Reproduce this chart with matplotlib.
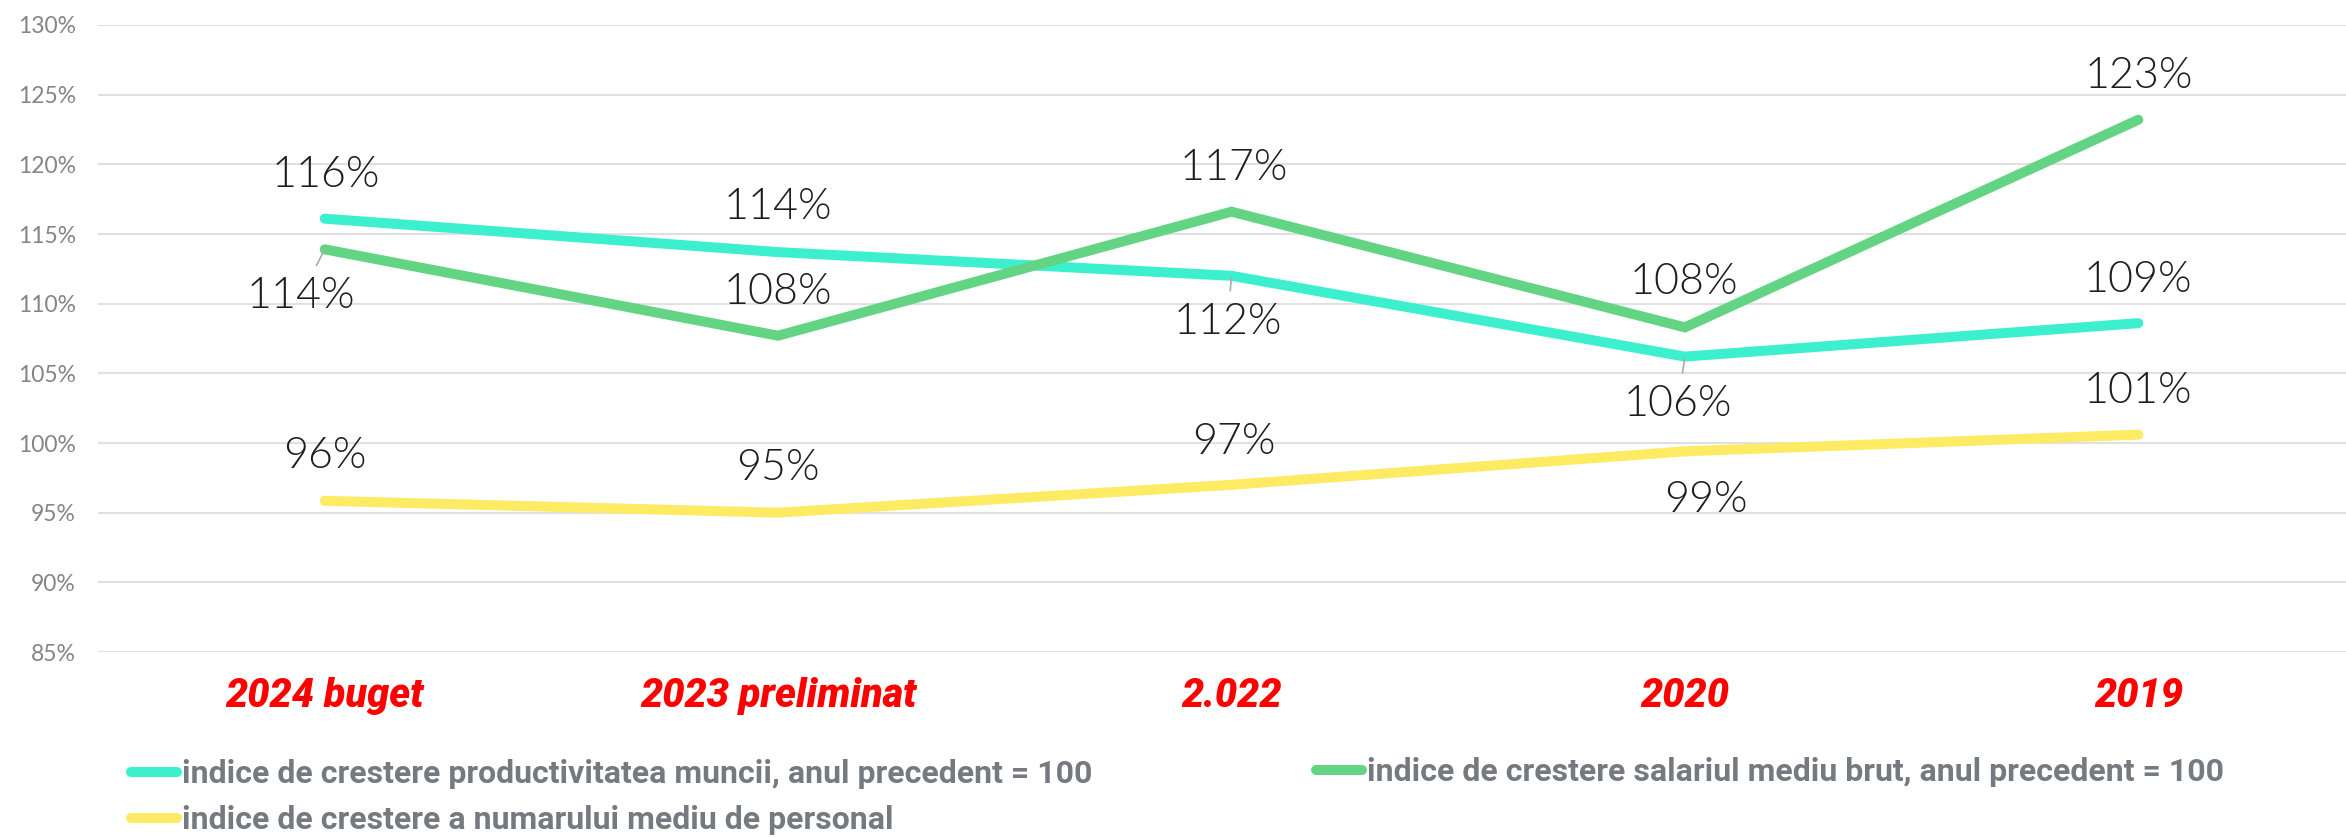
import matplotlib.pyplot as plt
from matplotlib.lines import Line2D

# values (percent, previous year = 100)
years = ['2024 buget', '2023 preliminat', '2.022', '2020', '2019']
productivitate = [116.1, 113.7, 112.0, 106.2, 108.6]
salariu = [113.9, 107.7, 116.6, 108.3, 123.2]
personal = [95.85, 95.0, 97.0, 99.4, 100.6]
yticks = [85, 90, 95, 100, 105, 110, 115, 120, 125, 130]

lbl_prod = 'indice de crestere productivitatea muncii, anul precedent = 100'
lbl_sal = 'indice de crestere salariul mediu brut, anul precedent = 100'
lbl_pers = 'indice de crestere a numarului mediu de personal'

c_prod = '#3cf0cf'
c_sal = '#63d384'
c_pers = '#fdeb64'

# label offsets in pixels (dx, dy) and which ones get a leader line
off_prod = [(1, 43), (0, 45), (-4, -47), (-7, -48), (0, 43)]
off_sal = [(-24, -47), (0, 43), (2, 43), (-1, 45), (0, 43)]
off_pers = [(0, 44), (0, 44), (2, 42), (21, -49), (0, 43)]
lead_prod = [False, False, True, True, False]
lead_sal = [True, False, False, False, False]
lead_pers = [False] * 5

W, H = 2346, 838
fig = plt.figure(figsize=(W / 100, H / 100), dpi=100)
ax = fig.add_axes([98 / W, 1 - 652 / H, (2365 - 98) / W, (652 - 25) / H])

x = list(range(len(years)))
lw = 7.2
for vals, col, lab in [(personal, c_pers, lbl_pers), (productivitate, c_prod, lbl_prod),
                       (salariu, c_sal, lbl_sal)]:
    ax.plot(x, vals, color=col, lw=lw, solid_capstyle='round', solid_joinstyle='miter',
            label=lab, zorder=3)

lab_font = dict(family=['Lato', 'DejaVu Sans'], weight=300, size=31, color='#1e1e1e')
for vals, offs, leads in [(productivitate, off_prod, lead_prod), (salariu, off_sal, lead_sal),
                          (personal, off_pers, lead_pers)]:
    for i, v in enumerate(vals):
        kw = {}
        if leads[i]:
            kw['arrowprops'] = dict(arrowstyle='-', color='#aaaaaa', lw=1.2, shrinkA=7, shrinkB=1)
        ax.annotate('%d%%' % round(v), (i, v), xytext=offs[i], textcoords='offset pixels',
                    ha='center', va='center', zorder=4, **lab_font, **kw)

ax.set_xlim(-0.5, len(years) - 0.5)
ax.set_ylim(85, 130)
ax.set_yticks(yticks)
ax.set_yticklabels(['%d%%' % t for t in yticks])
ax.grid(axis='y', color='#e0e0e0', lw=1.5)
ax.set_axisbelow(True)
for s in ax.spines.values():
    s.set_visible(False)
ax.tick_params(axis='y', length=0, pad=16, labelsize=16.5, labelcolor='#858585')
for t in ax.get_yticklabels():
    t.set_fontfamily(['Lato', 'DejaVu Sans'])

ax.set_xticks(x)
ax.set_xticklabels(years)
ax.tick_params(axis='x', length=0, pad=18)
for t in ax.get_xticklabels():
    t.set_fontfamily(['Roboto', 'DejaVu Sans'])
    t.set_fontweight('heavy')
    t.set_fontstyle('italic')
    t.set_fontsize(28.5)
    t.set_color('#ff0000')

# legend, two blocks like the original layout
leg_font = dict(family=['Roboto', 'DejaVu Sans'], weight='bold', size=23)
h_prod = Line2D([], [], color=c_prod, lw=lw, solid_capstyle='round')
h_sal = Line2D([], [], color=c_sal, lw=lw, solid_capstyle='round')
h_pers = Line2D([], [], color=c_pers, lw=lw, solid_capstyle='round')

leg1 = fig.legend([h_prod, h_pers], [lbl_prod, lbl_pers], loc='center left',
                  bbox_to_anchor=(131 / W, 1 - 797 / H), frameon=False, borderpad=0,
                  borderaxespad=0, handlelength=1.45, handletextpad=0.15, labelspacing=0.5,
                  prop=leg_font)
leg2 = fig.legend([h_sal], [lbl_sal], loc='center left',
                  bbox_to_anchor=(1316 / W, 1 - 772 / H), frameon=False, borderpad=0,
                  borderaxespad=0, handlelength=1.45, handletextpad=0.15, prop=leg_font)
for leg in (leg1, leg2):
    for t in leg.get_texts():
        t.set_color('#757a80')

fig.savefig('out.png', dpi=100)
